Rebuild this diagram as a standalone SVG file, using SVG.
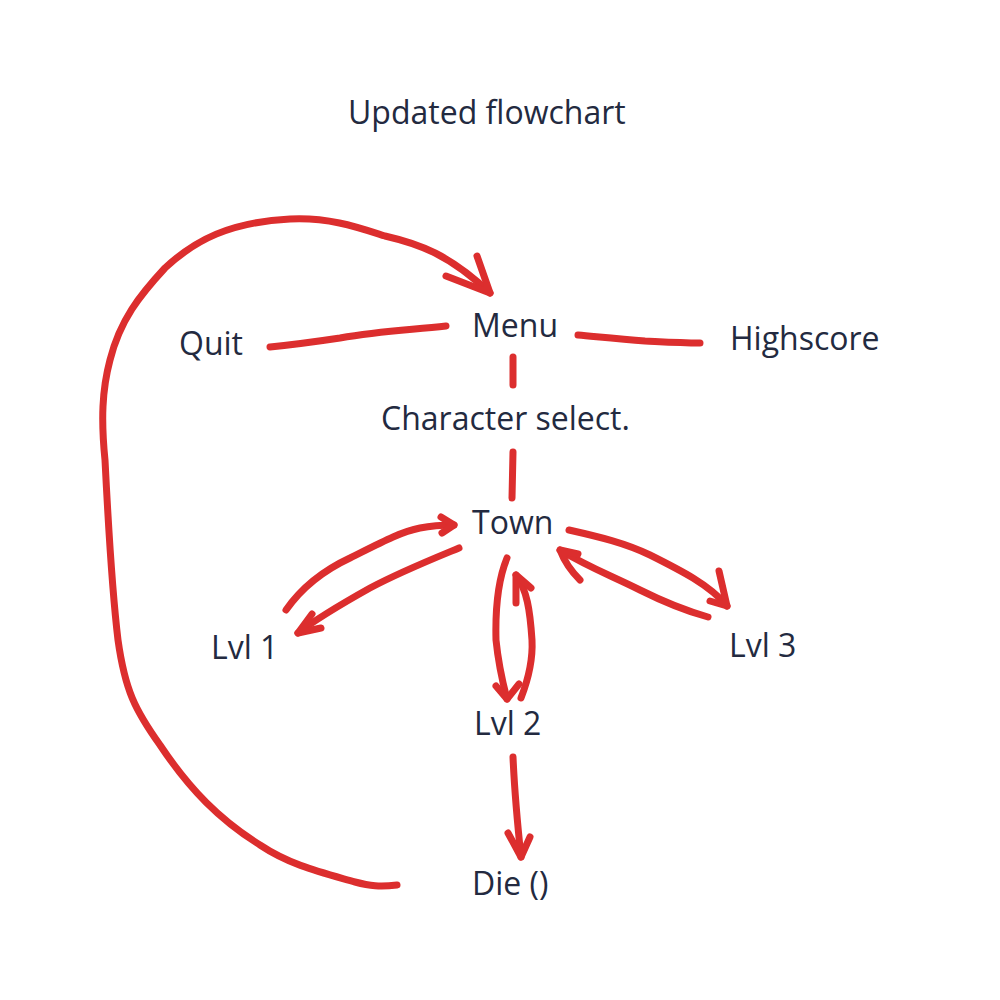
<svg xmlns="http://www.w3.org/2000/svg" width="1000" height="1000" viewBox="0 0 1000 1000">
<style>
text{font-family:"Open Sans","Noto Sans",sans-serif;font-size:32px;fill:#232a40}
.s{fill:none;stroke:#dc2e2e;stroke-width:7;stroke-linecap:round;stroke-linejoin:round}
</style>
<rect width="1000" height="1000" fill="#fff"/>
<text x="348" y="124">Updated flowchart</text>
<g id="menu"><text x="472" y="337">Menu</text></g>
<g id="quit"><text x="179" y="355">Quit</text></g>
<g id="highscore"><text x="730" y="350">Highscore</text></g>
<g id="charselect"><text x="381" y="430">Character select.</text></g>
<g id="town"><text x="472" y="534">Town</text></g>
<g id="lvl1"><text x="211" y="659">Lvl 1</text></g>
<g id="lvl2"><text x="474" y="735">Lvl 2</text></g>
<g id="lvl3"><text x="729" y="657">Lvl 3</text></g>
<g id="die"><text x="472" y="895">Die ()</text></g>
<g id="connectors" class="s">
<path d="M397,885 C380,887 370,886 355,882 C320,872 290,865 260,845 C220,820 190,790 160,745 C135,710 125,690 118,640 C112,590 108,520 105,460 C101,420 102,390 110,360 C120,320 140,295 165,268 C195,240 230,222 290,219 C330,217 360,228 385,236 C420,244 450,255 490,293"/>
<path d="M477,256 L490,293 L446,276"/>
<path d="M270,347 C300,344 320,341 340,338 C380,331 410,330 446,326"/>
<path d="M578,335 C600,337 620,339 645,341 C665,342 680,343 700,343"/>
<path d="M513,357 L513,385"/>
<path d="M513,452 L512,498"/>
<path d="M286,610 C300,590 320,572 350,558 C380,543 400,532 420,528 C435,525 445,525 454,525"/>
<path d="M441,517 L454,525 L442,533"/>
<path d="M459,548 C430,560 400,572 370,588 C345,602 320,616 298,633"/>
<path d="M312,614 L298,633 L321,628"/>
<path d="M507,558 C500,575 495,600 496,640 C498,660 502,680 507,699"/>
<path d="M496,686 L507,699 L519,684"/>
<path d="M521,698 C528,680 533,660 532,640 C530,610 527,590 516,575"/>
<path d="M516,603 L516,575 L531,588"/>
<path d="M569,530 C600,537 625,543 650,555 C680,570 710,585 727,606"/>
<path d="M719,571 L727,606 L710,601"/>
<path d="M708,617 C690,612 670,605 640,590 C610,575 590,568 560,550"/>
<path d="M578,554 L560,550 C565,563 572,572 580,580"/>
<path d="M513,757 C514,780 516,810 521,857"/>
<path d="M508,833 L521,857 L530,837"/>
</g>
</svg>
